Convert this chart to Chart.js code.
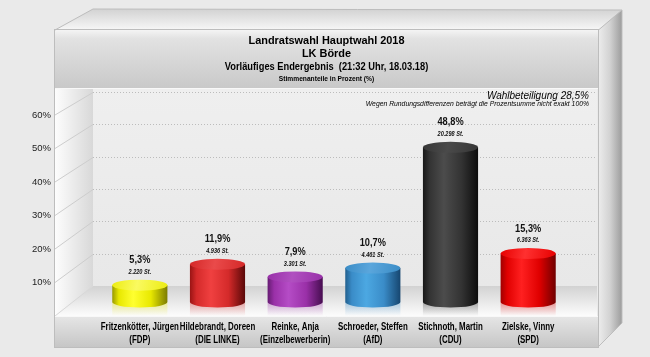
<!DOCTYPE html>
<html><head><meta charset="utf-8">
<script src="https://cdn.jsdelivr.net/npm/chart.js@4"></script>
<style>html,body{margin:0;padding:0;background:#eaeaea}#wrap{width:650px;height:357px;position:relative}</style>
</head><body><div id="wrap"><canvas id="c"></canvas></div>
<script>
// ---- data ----
const candidates = ["Fritzenkötter, Jürgen","Hildebrandt, Doreen","Reinke, Anja","Schroeder, Steffen","Stichnoth, Martin","Zielske, Vinny"];
const parties = ["(FDP)","(DIE LINKE)","(Einzelbewerberin)","(AfD)","(CDU)","(SPD)"];
const shares = [5.3, 11.9, 7.9, 10.7, 48.8, 15.3];
const votes = [2220, 4936, 3301, 4461, 20298, 6363];
const yTickValues = [10, 20, 30, 40, 50, 60];
const titleLines = ["Landratswahl Hauptwahl 2018", "LK Börde", "Vorläufiges Endergebnis  (21:32 Uhr, 18.03.18)", "Stimmenanteile in Prozent (%)"];
const turnoutText = "Wahlbeteiligung 28,5%";
const noteText = "Wegen Rundungsdifferenzen beträgt die Prozentsumme nicht exakt 100%";

// ---- styles ----
const palette = [
  {dark:'#9a9a00', light:'#ffff30', darker:'#7c7c00', top:'#ecec12', topHi:'#fafa60', mid:'#e8e800'},
  {dark:'#9a1414', light:'#f04040', darker:'#5a0808', top:'#d42828', topHi:'#ea4a4a', mid:'#d42a2a'},
  {dark:'#651c72', light:'#b54cc6', darker:'#460d50', top:'#9830a8', topHi:'#b050c0', mid:'#9a30a8'},
  {dark:'#22608e', light:'#4ca8e2', darker:'#164670', top:'#3a8cc6', topHi:'#5aa6dc', mid:'#3a8cc8'},
  {dark:'#181818', light:'#4c4c4c', darker:'#0c0c0c', top:'#363636', topHi:'#4a4a4a', mid:'#333333'},
  {dark:'#a00000', light:'#ff2020', darker:'#700000', top:'#e60000', topHi:'#ff3030', mid:'#e00000'}
];
const FONT = "'Liberation Sans', Arial, sans-serif";

function deNum(n){ return String(n).replace(/\B(?=(\d{3})+(?!\d))/g, '.'); }
function dePct(v){ return v.toFixed(1).replace('.', ',') + '%'; }
function squeezedText(ctx, text, x, y, sx){
  ctx.save(); ctx.translate(x, y); ctx.scale(sx, 1); ctx.fillText(text, 0, 0); ctx.restore();
}

const box = {L:55, R:598, BL:93, BR:597, top:30, panelB:88, bottom:347, depthTop:10, RR:622};

const backgroundPlugin = {
  id: 'box3d',
  beforeDraw(chart) {
    const ctx = chart.ctx;
    const yF = chart.scales.y, yK = chart.scales.yk;
    const f0 = yF.getPixelForValue(0), b0 = yK.getPixelForValue(0);
    ctx.save();
    ctx.fillStyle = '#eaeaea';
    ctx.fillRect(0, 0, chart.width, chart.height);
    // top face
    let g = ctx.createLinearGradient(0, box.depthTop, 0, box.top);
    g.addColorStop(0, '#d4d4d4'); g.addColorStop(1, '#f7f7f7');
    ctx.fillStyle = g;
    ctx.beginPath(); ctx.moveTo(box.L, box.top); ctx.lineTo(box.BL, box.depthTop - 1); ctx.lineTo(box.RR, box.depthTop); ctx.lineTo(box.R, box.top); ctx.closePath(); ctx.fill();
    // right face
    g = ctx.createLinearGradient(box.R, 0, box.RR, 0);
    g.addColorStop(0, '#ededed'); g.addColorStop(0.5, '#d2d2d2'); g.addColorStop(1, '#9c9c9c');
    ctx.fillStyle = g;
    ctx.beginPath(); ctx.moveTo(box.R, box.top); ctx.lineTo(box.RR, box.depthTop); ctx.lineTo(box.RR, box.bottom - 24); ctx.lineTo(box.R, box.bottom); ctx.closePath(); ctx.fill();
    // title panel
    g = ctx.createLinearGradient(0, box.top, 0, box.panelB);
    g.addColorStop(0, '#f4f4f4'); g.addColorStop(0.15, '#e2e2e2'); g.addColorStop(1, '#c9c9c9');
    ctx.fillStyle = g; ctx.fillRect(box.L, box.top, box.R - box.L, box.panelB - box.top);
    // back wall
    g = ctx.createLinearGradient(0, box.panelB, 0, b0);
    g.addColorStop(0, '#efefef'); g.addColorStop(1, '#e8e8e8');
    ctx.fillStyle = g; ctx.fillRect(box.BL, box.panelB, box.BR - box.BL, b0 - box.panelB);
    // left wall
    g = ctx.createLinearGradient(box.L, 0, box.BL, 0);
    g.addColorStop(0, '#fdfdfd'); g.addColorStop(1, '#d8d8d8');
    ctx.fillStyle = g;
    ctx.beginPath(); ctx.moveTo(box.L, box.panelB); ctx.lineTo(box.BL, box.panelB); ctx.lineTo(box.BL, b0); ctx.lineTo(box.L, f0); ctx.closePath(); ctx.fill();
    // floor
    g = ctx.createLinearGradient(0, b0, 0, f0);
    g.addColorStop(0, '#d2d2d2'); g.addColorStop(0.75, '#f2f2f2'); g.addColorStop(1, '#fcfcfc');
    ctx.fillStyle = g;
    ctx.beginPath(); ctx.moveTo(box.L, f0); ctx.lineTo(box.BL, b0); ctx.lineTo(box.BR, b0); ctx.lineTo(box.BR, f0); ctx.closePath(); ctx.fill();
    // label panel
    g = ctx.createLinearGradient(0, f0, 0, box.bottom);
    g.addColorStop(0, '#e6e6e6'); g.addColorStop(1, '#c6c6c6');
    ctx.fillStyle = g; ctx.fillRect(box.L, f0, box.R - box.L, box.bottom - f0);
    // grid lines
    ctx.lineWidth = 1;
    yTickValues.forEach(v => {
      const by = Math.round(yK.getPixelForValue(v)) + 0.5;
      const fy = yF.getPixelForValue(v);
      ctx.strokeStyle = '#bcbcbc';
      ctx.setLineDash([1, 2]);
      ctx.beginPath(); ctx.moveTo(box.BL, by); ctx.lineTo(box.BR, by); ctx.stroke();
      ctx.setLineDash([]);
      ctx.strokeStyle = '#cdcdcd';
      ctx.beginPath(); ctx.moveTo(box.L, fy); ctx.lineTo(box.BL, by); ctx.stroke();
    });
    ctx.strokeStyle = '#d8d8d8';
    ctx.beginPath(); ctx.moveTo(box.L, f0); ctx.lineTo(box.BL, b0); ctx.stroke();
    // frame edges
    ctx.strokeStyle = '#bdbdbd';
    ctx.strokeRect(box.L - 0.5, box.top - 0.5, box.R - box.L + 1, box.bottom - box.top + 1);
    ctx.beginPath(); ctx.moveTo(box.R + 0.5, box.top); ctx.lineTo(box.RR, box.depthTop); ctx.lineTo(box.RR, box.bottom - 24); ctx.lineTo(box.R, box.bottom); ctx.stroke();
    ctx.beginPath(); ctx.moveTo(box.L, box.top); ctx.lineTo(box.BL, box.depthTop - 1); ctx.lineTo(box.RR, box.depthTop); ctx.stroke();
    ctx.strokeStyle = '#f8f8f8';
    ctx.beginPath(); ctx.moveTo(box.L, box.panelB + 0.5); ctx.lineTo(box.R, box.panelB + 0.5); ctx.stroke();
    ctx.beginPath(); ctx.moveTo(box.L, f0 + 0.5); ctx.lineTo(box.R, f0 + 0.5); ctx.stroke();
    // titles
    const cx = (box.L + box.R) / 2;
    ctx.fillStyle = '#000';
    ctx.textAlign = 'center'; ctx.textBaseline = 'alphabetic';
    ctx.font = 'bold 11.5px ' + FONT; squeezedText(ctx, titleLines[0], cx, 44, 0.95);
    ctx.font = 'bold 11.5px ' + FONT; squeezedText(ctx, titleLines[1], cx, 57, 0.95);
    ctx.font = 'bold 10px ' + FONT; squeezedText(ctx, titleLines[2], cx, 69.5, 0.93);
    ctx.font = 'bold 7px ' + FONT; squeezedText(ctx, titleLines[3], cx, 81, 0.95);
    ctx.textAlign = 'right';
    ctx.font = 'italic 10px ' + FONT; ctx.fillText(turnoutText, 589, 98.5);
    ctx.font = 'italic 6.8px ' + FONT; ctx.fillText(noteText, 589, 105.5);
    ctx.restore();
  }
};

const cylinderPlugin = {
  id: 'cylinders',
  afterDatasetsDraw(chart) {
    const ctx = chart.ctx;
    const meta = chart.getDatasetMeta(0);
    const f0 = chart.scales.y.getPixelForValue(0);
    const xs = chart.scales.x;
    meta.data.forEach((el, i) => {
      const p = el.getProps(['x', 'y', 'base', 'width'], true);
      const c = palette[i];
      const rx = p.width / 2, ry = 5.5;
      const x = p.x, yT = p.y, yB = p.base;
      ctx.save();
      // reflection on floor
      const rg = ctx.createLinearGradient(0, yB, 0, f0);
      rg.addColorStop(0, c.mid + '60'); rg.addColorStop(1, c.mid + '00');
      ctx.fillStyle = rg;
      ctx.beginPath(); ctx.rect(x - rx, yB, p.width, f0 - yB); ctx.fill();
      // side
      const g = ctx.createLinearGradient(x - rx, 0, x + rx, 0);
      g.addColorStop(0, c.dark); g.addColorStop(0.12, c.mid); g.addColorStop(0.38, c.light); g.addColorStop(0.7, c.mid); g.addColorStop(1, c.darker);
      ctx.fillStyle = g;
      ctx.beginPath();
      ctx.moveTo(x - rx, yT);
      ctx.lineTo(x - rx, yB);
      ctx.ellipse(x, yB, rx, ry, 0, Math.PI, 0, true);
      ctx.lineTo(x + rx, yT);
      ctx.closePath();
      ctx.fill();
      // top
      const tg = ctx.createLinearGradient(x - rx, yT - ry, x + rx, yT + ry);
      tg.addColorStop(0, c.top); tg.addColorStop(0.45, c.topHi); tg.addColorStop(1, c.top);
      ctx.fillStyle = tg;
      ctx.beginPath(); ctx.ellipse(x, yT, rx, ry, 0, 0, Math.PI * 2); ctx.fill();
      // value labels
      ctx.fillStyle = '#111';
      ctx.textAlign = 'center'; ctx.textBaseline = 'middle';
      ctx.font = 'bold 11px ' + FONT;
      squeezedText(ctx, dePct(shares[i]), x, yT - 25, 0.84);
      ctx.font = 'italic bold 7px ' + FONT;
      squeezedText(ctx, deNum(votes[i]) + ' St.', x, yT - 13, 0.8);
      // category labels
      const lx = xs.getPixelForValue(i);
      ctx.fillStyle = '#000';
      ctx.textBaseline = 'alphabetic';
      ctx.font = 'bold 10px ' + FONT;
      squeezedText(ctx, candidates[i], lx, f0 + 14, 0.79);
      squeezedText(ctx, parties[i], lx, f0 + 26.5, 0.79);
      ctx.restore();
    });
  }
};

new Chart(document.getElementById('c'), {
  type: 'bar',
  data: {
    labels: candidates.map((n, i) => [n, parties[i]]),
    datasets: [{ data: shares, yAxisID: 'yb', backgroundColor: 'rgba(0,0,0,0)', borderWidth: 0, barPercentage: 0.71, categoryPercentage: 1 }]
  },
  options: {
    responsive: true, maintainAspectRatio: false, animation: false,
    layout: { autoPadding: false, padding: { top: 115, right: 83, bottom: 0, left: 32 } },
    plugins: { legend: { display: false }, tooltip: { enabled: false }, title: { display: false } },
    scales: {
      x: {
        grid: { display: false, drawTicks: false }, border: { display: false },
        ticks: { display: false },
        afterFit: s => { s.height = 41; }
      },
      y: {
        position: 'left', min: 0, max: 60,
        grid: { display: false, drawTicks: false }, border: { display: false },
        ticks: { stepSize: 10, padding: 0, crossAlign: 'far', color: '#222', font: { family: FONT, size: 9.5 }, callback: v => (v === 0 ? '' : v + '%') },
        afterFit: s => { s.width = 69; }
      },
      yb: { display: false, min: -4.42, max: 58.99 },
      yk: { display: false, min: -9.28, max: 52.89 }
    }
  },
  plugins: [backgroundPlugin, cylinderPlugin]
});
</script>
</body></html>
